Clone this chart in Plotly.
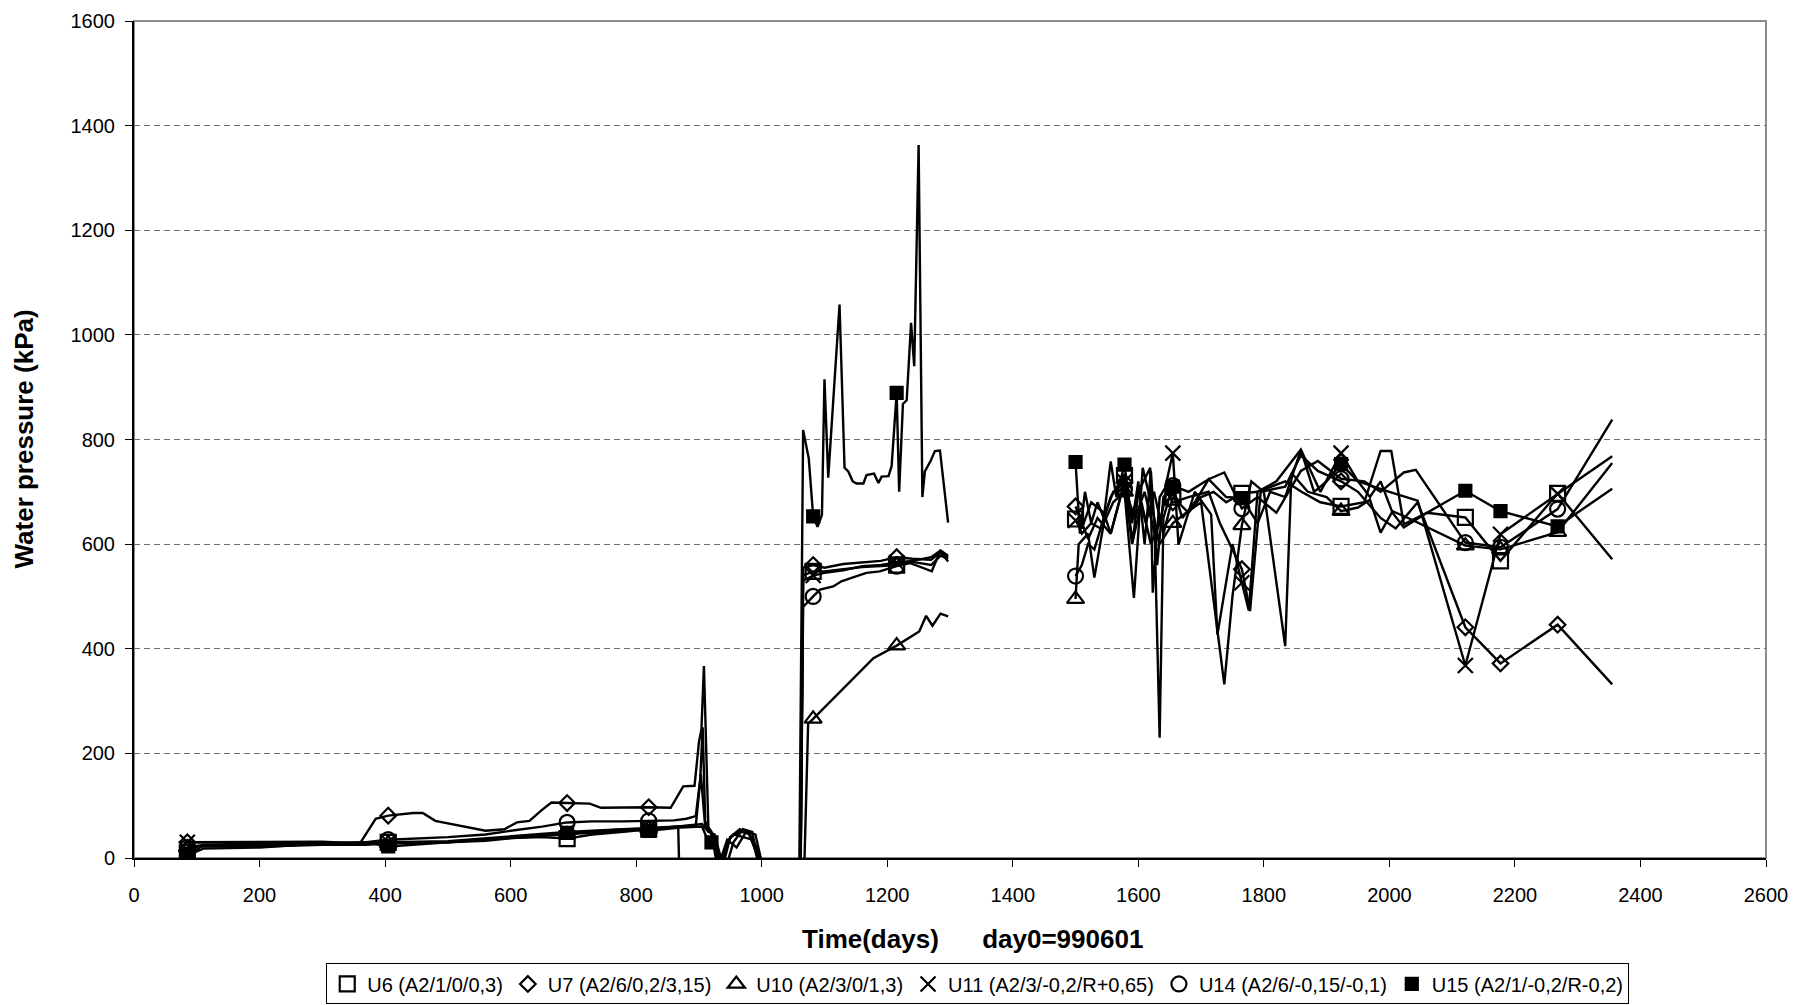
import plotly.graph_objects as go

# ---------------- data (day, kPa) ; None marks the data gap ----------------
U6 = [(85, 10), (95, 12), (110, 25), (200, 25), (300, 27), (370, 28), (405, 30), (450, 28), (500, 30),
      (560, 33), (600, 38), (650, 40), (690, 37), (730, 45), (780, 50), (820, 55), (870, 60), (905, 65),
      (915, 50), (925, 45), (935, 0), (950, 40), (965, 55), (980, 45), (995, 0), (1002, -12), (1062, -12),
      (1066, 540), (1082, 548), (1100, 548), (1130, 552), (1160, 556), (1190, 558), (1215, 560), (1240, 566),
      (1270, 560), (1285, 578), (1297, 572), (1400, None),
      (1500, 648), (1510, 620), (1525, 640), (1540, 630), (1556, 690), (1578, 731), (1590, 650), (1600, 700),
      (1612, 640), (1625, 700), (1640, 620), (1655, 690), (1680, 660), (1700, 690), (1720, 700), (1740, 680),
      (1765, 697), (1790, 700), (1834, 720), (1860, 700), (1890, 680), (1923, 672), (1960, 680), (1986, 778),
      (2003, 778), (2023, 638), (2060, 660), (2121, 651), (2177, 568), (2268, 697), (2355, 571)]

U7 = [(85, 30), (110, 30), (200, 31), (300, 31), (360, 28), (385, 75), (405, 81), (445, 86), (460, 86),
      (480, 71), (560, 52), (590, 55), (610, 68), (630, 71), (650, 92), (665, 106), (690, 105), (726, 104),
      (744, 96), (820, 97), (855, 96), (868, 122), (875, 137), (893, 138), (900, 221), (904, 246), (908, 367),
      (915, 59), (920, 50), (935, -30), (950, 40), (965, 50), (980, 48), (992, 20), (1000, -8), (1062, -8),
      (1066, 555), (1082, 560), (1100, 555), (1130, 562), (1160, 565), (1190, 568), (1215, 575), (1240, 572),
      (1270, 570), (1285, 585), (1297, 575), (1400, None),
      (1500, 672), (1510, 640), (1520, 610), (1535, 650), (1556, 620), (1578, 718), (1590, 600), (1605, 680),
      (1620, 600), (1634, 640), (1645, 700), (1655, 680), (1680, 690), (1712, 700), (1730, 640), (1765, 552),
      (1778, 472), (1795, 700), (1834, 710), (1859, 770), (1886, 740), (1923, 720), (1950, 700), (1986, 650),
      (2010, 630), (2045, 680), (2121, 441), (2177, 372), (2268, 446), (2355, 332)]

U10 = [(85, 20), (110, 22), (200, 22), (300, 25), (370, 25), (405, 28), (500, 30), (600, 38), (690, 45),
       (780, 52), (820, 56), (860, 58), (895, 62), (903, 160), (910, 60), (925, 40), (940, -30), (955, 30),
       (970, 55), (985, 50), (995, -12), (1068, -12), (1074, 257), (1082, 266), (1112, 302), (1142, 340),
       (1178, 382), (1215, 406), (1235, 421), (1251, 433), (1262, 463), (1272, 444), (1285, 467), (1297, 462),
       (1400, None),
       (1500, 495), (1505, 600), (1520, 620), (1530, 536), (1545, 640), (1560, 680), (1578, 700), (1593, 497),
       (1607, 746), (1620, 680), (1634, 600), (1655, 640), (1673, 657), (1700, 680), (1737, 332), (1750, 500),
       (1765, 636), (1780, 720), (1800, 700), (1834, 405), (1844, 736), (1870, 700), (1900, 690), (1923, 663),
       (1950, 670), (1969, 685), (1986, 622), (2005, 663), (2030, 650), (2121, 597), (2177, 590), (2268, 623),
       (2355, 755)]

U11 = [(85, 30), (110, 30), (200, 28), (300, 30), (370, 27), (405, 30), (500, 32), (600, 42), (690, 50),
       (780, 55), (820, 58), (860, 60), (867, 60), (869, -40), (1062, -40), (1066, 530), (1082, 540),
       (1100, 545), (1130, 550), (1160, 558), (1190, 560), (1215, 565), (1240, 568), (1270, 575), (1285, 588),
       (1297, 578), (1400, None),
       (1500, 645), (1510, 630), (1525, 680), (1545, 660), (1556, 620), (1578, 720), (1591, 603), (1600, 700),
       (1619, 746), (1623, 507), (1634, 690), (1643, 708), (1655, 774), (1664, 599), (1690, 700), (1716, 657),
       (1726, 427), (1750, 600), (1765, 526), (1776, 473), (1790, 700), (1820, 720), (1859, 781), (1890, 700),
       (1923, 774), (1950, 720), (2000, 700), (2045, 683), (2121, 368), (2177, 619), (2268, 696), (2355, 768)]

U14 = [(85, 20), (110, 25), (200, 22), (300, 28), (370, 30), (405, 35), (500, 40), (560, 45), (600, 52),
       (650, 60), (690, 68), (730, 70), (780, 70), (820, 71), (860, 72), (880, 75), (895, 80), (902, 150),
       (906, 250), (910, 70), (920, 45), (930, -20), (945, 35), (960, 20), (975, 50), (990, 45), (1000, -8),
       (1062, -8), (1066, 480), (1082, 500), (1093, 513), (1114, 519), (1127, 529), (1149, 538), (1167, 545),
       (1188, 548), (1215, 558), (1236, 564), (1271, 548), (1284, 586), (1297, 567), (1400, None),
       (1500, 539), (1510, 560), (1520, 600), (1530, 590), (1545, 650), (1560, 700), (1578, 705), (1595, 650),
       (1610, 700), (1626, 620), (1634, 230), (1640, 650), (1655, 712), (1680, 700), (1712, 724), (1737, 737),
       (1765, 668), (1790, 690), (1820, 660), (1859, 740), (1886, 759), (1923, 725), (1960, 720), (1986, 700),
       (2023, 737), (2042, 742), (2121, 603), (2177, 594), (2268, 667), (2355, 838)]

U15 = [(85, 8), (95, 10), (110, 18), (200, 20), (300, 28), (370, 30), (405, 22), (500, 30), (600, 40),
       (690, 48), (780, 55), (820, 52), (870, 58), (905, 60), (912, 40), (920, 30), (928, 20), (935, -20),
       (945, 30), (955, 45), (970, 40), (985, 35), (995, -10), (1060, -10), (1066, 818), (1075, 764),
       (1082, 653), (1089, 633), (1096, 656), (1100, 915), (1106, 727), (1124, 1058), (1132, 746), (1138, 739),
       (1145, 720), (1151, 716), (1162, 716), (1167, 732), (1179, 735), (1186, 717), (1191, 729), (1202, 730),
       (1207, 749), (1215, 889), (1219, 700), (1225, 868), (1231, 875), (1238, 1023), (1243, 940), (1250, 1363),
       (1256, 690), (1260, 739), (1269, 759), (1276, 778), (1284, 779), (1297, 641), (1400, None),
       (1500, 757), (1507, 620), (1515, 700), (1525, 640), (1535, 680), (1545, 650), (1556, 758), (1565, 690),
       (1578, 752), (1590, 640), (1600, 720), (1610, 600), (1620, 740), (1630, 560), (1640, 690), (1655, 710),
       (1670, 650), (1690, 680), (1712, 724), (1740, 690), (1765, 688), (1790, 640), (1810, 700), (1834, 690),
       (1859, 780), (1880, 700), (1900, 720), (1923, 753), (1950, 720), (1969, 690), (1986, 720), (2005, 660),
       (2023, 632), (2060, 660), (2121, 702), (2177, 663), (2268, 634), (2355, 706)]

MARK_DAYS = [85, 405, 690, 820, 1082, 1215, 1500, 1578, 1655, 1765, 1923, 2121, 2177, 2268]
U15_EXTRA_MARKS = [920]

NAMES = ["U6 (A2/1/0/0,3)", "U7 (A2/6/0,2/3,15)", "U10 (A2/3/0/1,3)",
         "U11 (A2/3/-0,2/R+0,65)", "U14 (A2/6/-0,15/-0,1)", "U15 (A2/1/-0,2/R-0,2)"]

X_TICKS = list(range(0, 2601, 200))
Y_TICKS = list(range(0, 1601, 200))

# ---------------- figure ----------------
FONT = "Arial, 'Liberation Sans', sans-serif"
series = [U6, U7, U10, U11, U14, U15]
symbols = ["square-open", "diamond-open", "triangle-up-open", "x-thin-open", "circle-open", "square"]
sizes = [15, 12, 15, 15, 15, 12]
extra = [[], [], [], [], [], U15_EXTRA_MARKS]

fig = go.Figure()
for data, name, sym, sz, ex in zip(series, NAMES, symbols, sizes, extra):
    xs = [d for d, v in data]
    ys = [v for d, v in data]
    fig.add_trace(go.Scatter(x=xs, y=ys, mode="lines", line=dict(color="black", width=2.4),
                             connectgaps=False, showlegend=False, hoverinfo="skip"))
    lookup = {d: v for d, v in data}
    mdays = sorted(set(MARK_DAYS + ex))
    mx = [d for d in mdays if lookup.get(d) is not None]
    my = [lookup[d] for d in mx]
    fig.add_trace(go.Scatter(x=mx, y=my, mode="markers", name=name,
                             marker=dict(symbol=sym, size=sz, color="black",
                                         line=dict(color="black", width=2.2)),
                             cliponaxis=True))

fig.add_shape(type="rect", xref="paper", yref="paper", x0=0, x1=1, y0=0, y1=1,
              line=dict(color="#8c8c8c", width=2), layer="below")

fig.add_annotation(text="<b>Water pressure (kPa)</b>", xref="paper", yref="paper",
                   x=-0.068, y=0.5, textangle=-90, showarrow=False,
                   font=dict(family=FONT, size=26, color="black"), xanchor="center", yanchor="middle")
fig.add_annotation(text="<b>Time(days)\u00a0\u00a0\u00a0\u00a0\u00a0\u00a0day0=990601</b>",
                   xref="paper", yref="paper", x=0.514, y=-0.097, showarrow=False,
                   font=dict(family=FONT, size=26, color="black"), xanchor="center", yanchor="middle")

fig.update_layout(
    width=1813, height=1005,
    margin=dict(l=134, r=47, t=21, b=147, autoexpand=False),
    paper_bgcolor="white", plot_bgcolor="white",
    font=dict(family=FONT, size=20, color="black"),
    xaxis=dict(range=[0, 2600], tickvals=X_TICKS, ticktext=[str(t) for t in X_TICKS],
               showgrid=False, zeroline=False, showline=True, linecolor="black", linewidth=2,
               ticks="outside", ticklen=7, tickwidth=1, tickcolor="black", automargin=False,
               tickfont=dict(family=FONT, size=20, color="black"), ticklabelstandoff=11),
    yaxis=dict(range=[0, 1600], tickvals=Y_TICKS, ticktext=[str(t) for t in Y_TICKS],
               showgrid=True, gridcolor="#6e6e6e", gridwidth=1, griddash="6px,4px",
               zeroline=False, showline=True, linecolor="black", linewidth=2, automargin=False,
               ticks="outside", ticklen=7, tickwidth=1, tickcolor="black",
               tickfont=dict(family=FONT, size=20, color="black"), ticklabelstandoff=6),
    legend=dict(orientation="h", x=0.517, xanchor="center", y=-0.126, yanchor="top",
                bordercolor="black", borderwidth=1, bgcolor="white",
                font=dict(family=FONT, size=20, color="black"),
                itemsizing="trace", itemwidth=30, tracegroupgap=0),
)

fig.write_html("out.html", config={"displayModeBar": False},
               post_script="document.body.style.margin='0';")
